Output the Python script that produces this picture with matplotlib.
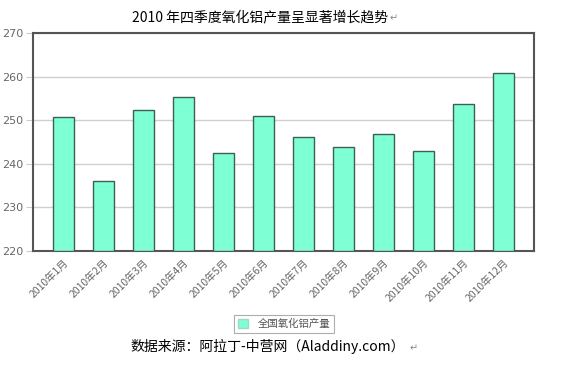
import matplotlib
matplotlib.use("Agg")
import matplotlib.pyplot as plt
from matplotlib.patches import Patch

plt.rcParams['font.family'] = ['Noto Sans CJK SC', 'DejaVu Sans']

months = ["2010年1月", "2010年2月", "2010年3月", "2010年4月", "2010年5月", "2010年6月",
          "2010年7月", "2010年8月", "2010年9月", "2010年10月", "2010年11月", "2010年12月"]
production = [250.6, 235.9, 252.3, 255.4, 242.5, 250.9, 246.2, 243.9, 246.8, 242.9, 253.7, 260.9]
yticks = [220, 230, 240, 250, 260, 270]
series_name = "全国氧化铝产量"
title = "2010 年四季度氧化铝产量呈显著增长趋势"
source = "数据来源：阿拉丁-中营网（Aladdiny.com）"

W, H = 569, 371
fig = plt.figure(figsize=(W / 100, H / 100), dpi=100)
x0, x1, ytop, ybot = 33.3, 533.7, 33, 250.7
ax = fig.add_axes([x0 / W, 1 - ybot / H, (x1 - x0) / W, (ybot - ytop) / H])

bar_color = "#7FFFD4"
edge_color = "#3E5F55"
xs = list(range(len(months)))
ax.bar(xs, [v - 220 for v in production], bottom=220, width=0.53,
       color=bar_color, edgecolor=edge_color, linewidth=1.0, zorder=3)

ax.set_xlim(-0.75, len(months) - 0.25)
ax.set_ylim(yticks[0], yticks[-1])
ax.set_yticks(yticks)
ax.set_yticklabels([str(t) for t in yticks], fontsize=8, color="#666666",
                   family=['DejaVu Sans'])
ax.set_xticks(xs)
ax.set_xticklabels(months, rotation=45, ha="right", va="top",
                   rotation_mode="anchor", fontsize=7.5, color="#666666")
ax.tick_params(axis="y", length=5, color="#cccccc", pad=2)
ax.tick_params(axis="x", length=0, pad=5)
ax.grid(axis="y", color="#d0d0d0", linewidth=1.0, zorder=0)
for s in ax.spines.values():
    s.set_color("#555555")
    s.set_linewidth(1.5)

fig.text(388 / W, 1 - 17 / H, title, ha="right", va="center", fontsize=10,
         color="#000000", family=['Noto Sans CJK SC', 'DejaVu Sans'])
fig.text(390 / W, 1 - 18 / H, "↵", ha="left", va="center", fontsize=7,
         color="#888888", family=['DejaVu Sans'])

leg = fig.legend(handles=[Patch(facecolor=bar_color, edgecolor="#9fd8c4")],
                 labels=[series_name], loc="center",
                 bbox_to_anchor=(284 / W, 1 - 324 / H), fontsize=7.5,
                 frameon=True, fancybox=False, handlelength=1.0, handleheight=1.0,
                 borderpad=0.35, handletextpad=0.9)
leg.get_frame().set_edgecolor("#999999")
leg.get_frame().set_linewidth(0.8)
for t in leg.get_texts():
    t.set_color("#555555")

fig.text(405 / W, 1 - 346 / H, source, ha="right", va="center", fontsize=10,
         color="#000000", family=['Noto Sans CJK SC', 'DejaVu Sans'])
fig.text(410 / W, 1 - 348 / H, "↵", ha="left", va="center", fontsize=7,
         color="#888888", family=['DejaVu Sans'])

fig.savefig("out.png", dpi=100, facecolor="white")
